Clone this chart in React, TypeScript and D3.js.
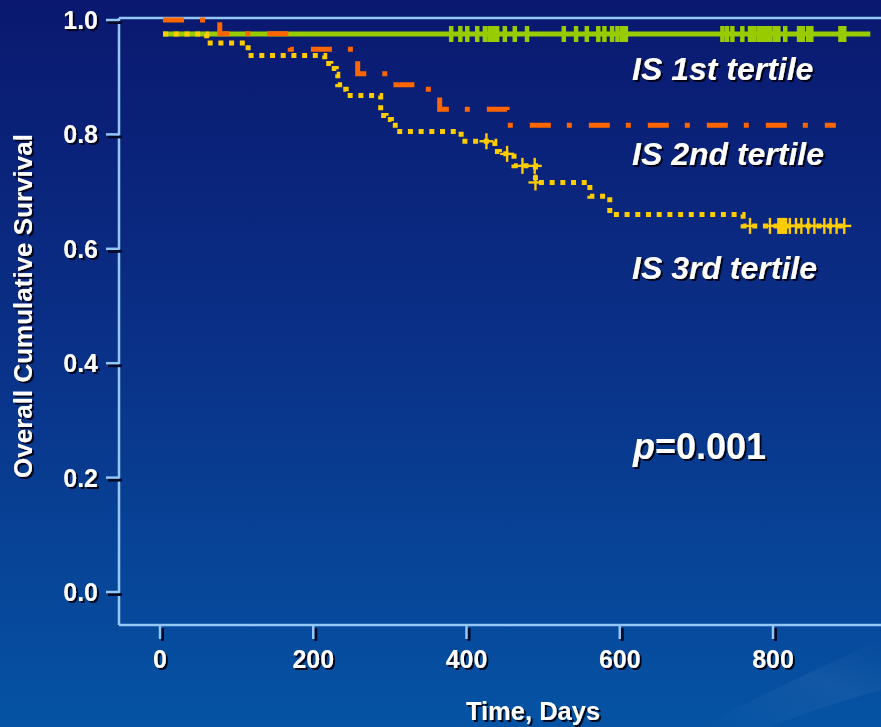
import React from 'react';
import * as d3 from 'd3';

const W = 881;
const H = 727;

// Axis ticks
const xTicks = [0, 200, 400, 600, 800];
const yTicks = [0, 0.2, 0.4, 0.6, 0.8, 1.0];

// IS 1st tertile (green)
const t1Times = [4];
const t1Surv = [0.9755];
const t1End = 927;
const t1Censor = [380, 392, 401, 414, 424, 430, 435, 440, 450, 463, 479, 527, 543, 557, 572, 580, 590, 597, 603, 608,
  734, 740, 747, 760, 770, 775, 781, 786, 791, 796, 802, 807, 816, 834, 839, 846, 850, 888, 893];

// IS 2nd tertile (orange)
const t2Times = [4, 78, 170, 258, 300, 339, 365, 453];
const t2Surv = [1.0, 0.976, 0.949, 0.906, 0.887, 0.879, 0.844, 0.816];
const t2End = 882;

// IS 3rd tertile (yellow)
const t3Times = [4, 61, 115, 215, 223, 230, 232, 238, 243, 288, 295, 302, 307, 393, 437, 443, 462, 490, 561, 587, 761];
const t3Surv = [0.9755, 0.96, 0.938, 0.924, 0.915, 0.905, 0.887, 0.879, 0.868, 0.833, 0.826, 0.816, 0.805, 0.788, 0.770, 0.766, 0.745, 0.716, 0.692, 0.660, 0.640];
const t3End = 894;
const t3Censor = [426, 453, 473, 489, 490, 770, 796, 807, 809, 811, 813, 815, 817, 822, 830, 837, 846, 854, 867, 875, 883, 893];

const labels = ['IS 1st tertile', 'IS 2nd tertile', 'IS 3rd tertile'];

const FONT = '"Liberation Sans", Arial, Helvetica, sans-serif';
const FRAME = '#94c6f6';
const GREEN = '#99cc00';
const ORANGE = '#ff6600';
const YELLOW = '#ffcc00';

function stepPoints(times: number[], surv: number[], end: number): [number, number][] {
  const pts: [number, number][] = times.map((t, i) => [t, surv[i]]);
  pts.push([end, surv[surv.length - 1]]);
  return pts;
}

function survAt(times: number[], surv: number[], t: number): number {
  let s = surv[0];
  times.forEach((tt, i) => {
    if (tt <= t) s = surv[i];
  });
  return s;
}

export default function App() {
  const x = d3.scaleLinear().domain([0, 800]).range([160, 773]);
  const y = d3.scaleLinear().domain([0, 1]).range([592, 20]);
  const line = d3
    .line<[number, number]>()
    .x((d) => x(d[0]))
    .y((d) => y(d[1]))
    .curve(d3.curveStepAfter);

  const frameLeft = 119;
  const frameTop = y(1) - 2;
  const frameBottom = 625;

  const p1 = line(stepPoints(t1Times, t1Surv, t1End)) || '';
  const p2 = line(stepPoints(t2Times, t2Surv, t2End)) || '';
  const p3 = line(stepPoints(t3Times, t3Surv, t3End)) || '';

  return (
    <svg
      width={W}
      height={H}
      viewBox={`0 0 ${W} ${H}`}
      style={{ position: 'absolute', left: 0, top: 0, display: 'block' }}
    >
      <defs>
        <linearGradient id="bg" x1="0" y1="0" x2="0" y2="1">
          <stop offset="0%" stopColor="#0a186f" />
          <stop offset="45%" stopColor="#0a2f86" />
          <stop offset="100%" stopColor="#0553a4" />
        </linearGradient>
        <linearGradient id="sw" x1="0" y1="1" x2="1" y2="0">
          <stop offset="0%" stopColor="#ffffff" stopOpacity="0" />
          <stop offset="60%" stopColor="#ffffff" stopOpacity="0.05" />
          <stop offset="100%" stopColor="#ffffff" stopOpacity="0" />
        </linearGradient>
        <filter id="ts" x="-10%" y="-20%" width="130%" height="150%">
          <feDropShadow dx="2" dy="2" stdDeviation="0.7" floodColor="#000010" floodOpacity="0.9" />
        </filter>
      </defs>
      <rect x={0} y={0} width={W} height={H} fill="url(#bg)" />
      <path d={`M 700 ${H} Q 790 680 ${W} 640 L ${W} 690 Q 810 710 770 ${H} Z`} fill="url(#sw)" />

      {/* frame */}
      <g stroke={FRAME} strokeWidth={2.5} fill="none">
        <line x1={frameLeft} y1={frameTop} x2={W} y2={frameTop} />
        <line x1={frameLeft} y1={frameTop} x2={frameLeft} y2={frameBottom} />
        <line x1={frameLeft} y1={frameBottom} x2={W} y2={frameBottom} />
      </g>

      {/* y ticks */}
      {yTicks.map((t) => (
        <g key={`yt${t}`}>
          <line x1={108} x2={122} y1={y(t) + 2.5} y2={y(t) + 2.5} stroke="#050a28" strokeWidth={3} />
          <line x1={106} x2={119} y1={y(t)} y2={y(t)} stroke={FRAME} strokeWidth={2.5} />
        </g>
      ))}
      {/* x ticks */}
      {xTicks.map((t) => (
        <g key={`xt${t}`}>
          <line x1={x(t) + 2.5} x2={x(t) + 2.5} y1={628} y2={641} stroke="#050a28" strokeWidth={3} />
          <line x1={x(t)} x2={x(t)} y1={frameBottom} y2={639} stroke={FRAME} strokeWidth={2.5} />
        </g>
      ))}

      <g filter="url(#ts)" fill="#ffffff" fontFamily={FONT} fontWeight="bold">
        {yTicks.map((t) => (
          <text key={`yl${t}`} x={98} y={y(t)} dy="0.36em" textAnchor="end" fontSize={25}>
            {d3.format('.1f')(t)}
          </text>
        ))}
        {xTicks.map((t) => (
          <text key={`xl${t}`} x={x(t)} y={668} textAnchor="middle" fontSize={25}>
            {t}
          </text>
        ))}
        <text x={533} y={720} textAnchor="middle" fontSize={25.5}>
          Time, Days
        </text>
        <text transform={`translate(32,306) rotate(-90)`} textAnchor="middle" fontSize={26}>
          Overall Cumulative Survival
        </text>
      </g>

      {/* curves */}
      <path d={p1} fill="none" stroke={GREEN} strokeWidth={5} />
      {t1Censor.map((t, i) => (
        <line
          key={`c1${i}`}
          x1={x(t)}
          x2={x(t)}
          y1={y(survAt(t1Times, t1Surv, t)) - 8}
          y2={y(survAt(t1Times, t1Surv, t)) + 8}
          stroke={GREEN}
          strokeWidth={4.5}
        />
      ))}
      <path d={p2} fill="none" stroke={ORANGE} strokeWidth={5} strokeDasharray="21 16 5 17" />
      <path d={p3} fill="none" stroke={YELLOW} strokeWidth={5} strokeDasharray="5 5.7" />
      {t3Censor.map((t, i) => {
        const cy = y(survAt(t3Times, t3Surv, t));
        const cx = x(t);
        return (
          <g key={`c3${i}`} stroke={YELLOW} strokeWidth={2.4}>
            <line x1={cx} x2={cx} y1={cy - 8} y2={cy + 8} />
            <line x1={cx - 7} x2={cx + 7} y1={cy} y2={cy} />
          </g>
        );
      })}

      {/* labels */}
      <g filter="url(#ts)" fill="#ffffff" fontFamily={FONT} fontWeight="bold" fontStyle="italic">
        <text x={632} y={80} fontSize={32}>{labels[0]}</text>
        <text x={632} y={165} fontSize={32}>{labels[1]}</text>
        <text x={632} y={279} fontSize={32}>{labels[2]}</text>
      </g>
      <g filter="url(#ts)" fill="#ffffff" fontFamily={FONT} fontWeight="bold">
        <text x={633} y={459} fontSize={36}>
          <tspan fontStyle="italic">p</tspan>=0.001
        </text>
      </g>
    </svg>
  );
}
